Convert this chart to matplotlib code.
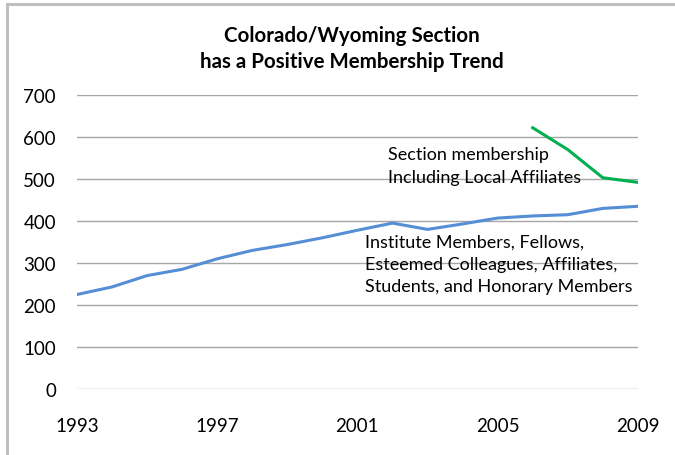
import matplotlib.pyplot as plt
from matplotlib.patches import Rectangle

years = list(range(1993, 2010))
institute = [225, 243, 270, 285, 310, 330, 344, 360, 378, 395, 380, 393, 407, 412, 415, 430, 435]
section_years = [2006, 2007, 2008, 2009]
section = [622, 570, 503, 492]
xticks = [1993, 1997, 2001, 2005, 2009]
yticks = [0, 100, 200, 300, 400, 500, 600, 700]

plt.rcParams['font.family'] = ['Lato', 'DejaVu Sans']

fig = plt.figure(figsize=(6.75, 4.56), dpi=100)
ax = fig.add_axes([0.114, 0.1447, 0.831, 0.6448])

# chart border, cut off at the right and bottom like the screenshot
fig.patches.append(Rectangle((0.0104, -0.1), 1.2, 1.089, transform=fig.transFigure,
                             fill=False, edgecolor='#BFBFBF', linewidth=2.2))

ax.plot(years, institute, color='#558ED5', linewidth=2.2)
ax.plot(section_years, section, color='#00B050', linewidth=2.2)

ax.set_xlim(1993, 2009)
ax.set_ylim(0, 700)
ax.set_xticks(xticks)
ax.set_yticks(yticks)
ax.tick_params(length=0, labelsize=13.5)
ax.tick_params(axis='x', pad=20)
ax.tick_params(axis='y', pad=15)
ax.grid(axis='y', color='#A6A6A6', linewidth=1)
ax.set_axisbelow(True)
for s in ax.spines.values():
    s.set_visible(False)

fig.text(0.521, 0.922, "Colorado/Wyoming Section", ha='center', va='center',
         fontsize=14.8, fontweight='bold')
fig.text(0.521, 0.865, "has a Positive Membership Trend", ha='center', va='center',
         fontsize=14.8, fontweight='bold')

ax.text(2001.87, 578, "Section membership\nIncluding Local Affiliates", fontsize=13,
        va='top', ha='left', linespacing=1.5)
ax.text(2001.21, 371, "Institute Members, Fellows,\nEsteemed Colleagues, Affiliates,\nStudents, and Honorary Members",
        fontsize=13, va='top', ha='left', linespacing=1.5)

fig.savefig('out.png', dpi=100)
